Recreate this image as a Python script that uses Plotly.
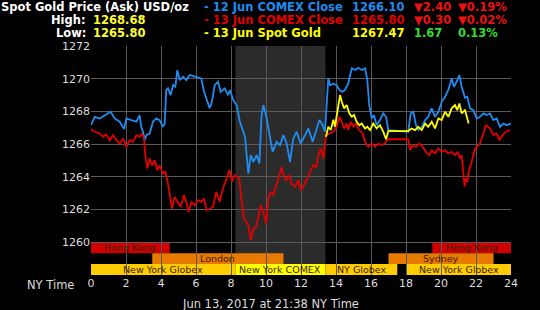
import plotly.graph_objects as go

# ---------------- data ----------------
blue_x = [0.0,0.21,0.5,0.78,1.12,1.35,1.64,1.89,2.02,2.3,2.59,2.78,2.87,2.97,3.07,3.16,3.35,3.54,3.73,3.92,
          4.11,4.21,4.3,4.4,4.55,4.69,4.82,4.93,5.07,5.26,5.45,5.64,5.92,6.3,6.46,6.59,6.78,6.91,7.07,7.26,
          7.41,7.64,7.83,7.94,8.13,8.32,8.51,8.8,8.99,9.13,9.28,9.47,9.62,9.75,9.85,10.0,10.19,10.38,10.61,10.8,
          10.99,11.18,11.37,11.56,11.75,11.98,12.23,12.42,12.67,12.86,13.05,13.24,13.37,13.56,13.66,13.85,14.04,14.13,14.33,14.51,
          14.7,14.9,15.09,15.27,15.47,15.66,15.79,15.9,16.04,16.17,16.32,16.51,16.7,16.86,16.99,18.13,18.27,18.42,18.57,18.7,
          18.9,19.09,19.27,19.47,19.66,19.85,20.04,20.23,20.42,20.61,20.74,20.89,21.05,21.18,21.37,21.5,21.66,21.85,22.04,22.23,
          22.42,22.61,22.8,22.99,23.18,23.37,23.56,23.75,24.0]
blue_y = [1267.16,1267.67,1267.57,1267.77,1267.98,1267.57,1267.37,1266.92,1267.57,1267.47,1267.37,1267.78,1267.06,1266.76,1266.24,1266.55,1266.65,1267.37,1267.57,1267.47,
          1267.06,1267.26,1269.31,1269.41,1269.0,1269.61,1269.51,1270.53,1269.92,1270.12,1269.92,1270.22,1270.12,1270.02,1269.2,1268.8,1268.19,1268.59,1269.61,1269.81,
          1269.2,1269.41,1269.0,1269.31,1268.69,1268.39,1267.37,1266.45,1264.2,1265.33,1264.92,1265.33,1264.82,1267.78,1268.39,1267.78,1266.76,1265.53,1266.14,1265.94,
          1266.55,1266.04,1264.92,1266.35,1266.76,1266.04,1266.55,1266.96,1266.14,1266.86,1267.47,1267.16,1266.76,1270.02,1269.6,1269.7,1269.61,1269.41,1269.2,1269.31,
          1269.71,1270.63,1270.53,1270.67,1270.53,1270.63,1269.92,1268.39,1267.57,1267.78,1267.16,1267.47,1267.88,1267.67,1266.86,1266.76,1267.88,1267.98,1267.16,1266.86,
          1267.06,1267.47,1267.67,1268.19,1267.67,1267.98,1268.59,1268.9,1269.31,1270.02,1269.51,1269.81,1270.22,1269.51,1268.84,1268.9,1268.19,1268.08,1267.57,1267.67,
          1267.88,1267.78,1267.88,1267.47,1267.57,1267.06,1267.26,1267.16,1267.26]

red_x = [0.0,0.21,0.5,0.69,0.87,1.07,1.26,1.45,1.64,1.83,2.02,2.21,2.4,2.59,2.78,2.91,3.03,3.1,3.22,3.35,
         3.49,3.64,3.79,3.92,4.11,4.25,4.4,4.55,4.63,4.78,4.93,5.13,5.31,5.45,5.58,5.73,5.92,6.11,6.3,6.46,
         6.61,6.78,6.97,7.16,7.35,7.54,7.73,7.92,8.06,8.21,8.32,8.47,8.61,8.74,8.9,8.99,9.13,9.28,9.43,9.56,
         9.7,9.85,10.0,10.13,10.27,10.42,10.61,10.76,10.89,11.03,11.14,11.33,11.46,11.66,11.85,11.98,12.17,12.36,12.55,12.7,
         12.86,12.99,13.13,13.28,13.43,13.66,13.85,14.04,14.19,14.33,14.46,14.61,14.7,14.84,14.99,15.14,15.33,15.52,15.66,15.85,
         16.04,16.23,16.42,16.61,16.8,16.9,16.99,18.13,18.23,18.38,18.57,18.76,18.95,19.14,19.33,19.47,19.66,19.85,20.04,20.23,
         20.42,20.61,20.8,20.95,21.09,21.18,21.28,21.35,21.42,21.5,21.6,21.75,21.9,22.04,22.23,22.42,22.57,22.8,22.99,23.18,
         23.33,23.52,23.71,23.94]
red_y = [1266.92,1266.76,1266.65,1266.45,1266.59,1266.24,1266.55,1266.24,1266.04,1266.35,1265.83,1266.24,1266.14,1266.55,1266.45,1266.65,1266.35,1265.33,1264.51,1265.12,
         1264.71,1265.02,1264.41,1264.71,1264.2,1264.31,1263.59,1262.67,1262.06,1262.77,1262.47,1262.16,1262.88,1262.47,1261.85,1262.47,1262.26,1262.57,1262.47,1262.67,
         1261.96,1262.06,1262.16,1263.08,1262.47,1263.29,1263.8,1264.41,1263.69,1264.1,1264.0,1263.9,1262.47,1261.45,1261.24,1261.04,1260.12,1260.84,1260.94,1261.65,
         1262.26,1261.85,1261.14,1262.67,1263.08,1262.88,1263.49,1264.1,1264.61,1264.0,1263.8,1264.1,1263.59,1263.39,1263.8,1263.18,1263.49,1263.9,1264.41,1264.71,
         1264.61,1265.33,1265.74,1265.12,1266.55,1266.65,1266.76,1267.06,1267.67,1267.37,1266.96,1267.26,1266.86,1267.37,1267.06,1267.26,1266.86,1266.65,1266.14,1265.83,
         1266.04,1265.83,1266.04,1265.94,1266.04,1266.24,1266.3,1266.3,1265.63,1265.94,1265.83,1266.04,1265.83,1265.53,1265.33,1265.63,1265.43,1265.74,1265.53,1265.63,
         1265.43,1265.53,1265.33,1265.53,1265.12,1265.33,1264.0,1263.4,1263.9,1263.7,1264.4,1264.9,1265.6,1265.83,1266.04,1266.65,1267.16,1266.96,1266.55,1266.65,
         1266.24,1266.55,1266.76,1266.86]

yel_x = [13.43,13.56,13.7,13.85,13.94,14.04,14.13,14.23,14.33,14.46,14.61,14.76,14.9,15.03,15.18,15.33,15.47,15.66,15.79,15.94,
         16.13,16.32,16.51,16.7,16.86,16.99,18.13,18.32,18.51,18.7,18.9,19.09,19.27,19.47,19.66,19.85,20.04,20.23,20.42,20.61,
         20.8,20.93,21.05,21.18,21.37,21.5,21.58]
yel_y = [1266.45,1267.06,1266.86,1267.5,1267.06,1267.78,1268.59,1269.0,1268.59,1268.19,1268.39,1267.88,1267.67,1267.78,1267.37,1267.16,1267.26,1266.96,1267.06,1266.86,
         1267.26,1266.96,1267.16,1266.76,1266.3,1266.8,1266.8,1266.96,1266.86,1267.06,1266.86,1267.26,1267.06,1267.37,1266.96,1267.57,1267.47,1267.98,1267.67,1268.19,
         1268.39,1268.08,1268.49,1267.88,1268.08,1267.57,1267.26]

x_ticks = [0, 2, 4, 6, 8, 10, 12, 14, 16, 18, 20, 22, 24]
y_ticks = [1260, 1262, 1264, 1266, 1268, 1270, 1272]

comex_shade = [8.25, 13.4]

sess_names = ["Hong Kong", "Hong Kong", "London", "Sydney", "New York Globex", "New York COMEX", "NY Globex", "New York Globex"]
sess_start = [0, 19.5, 3.5, 17, 0, 8.25, 13.4, 18]
sess_end = [4.5, 24, 11, 23, 8.25, 13.4, 17.5, 24]
sess_row = [0, 0, 1, 1, 2, 2, 2, 2]
sess_color = ["#d00000", "#d00000", "#e87a00", "#e87a00", "#ffcc00", "#ffff00", "#ffcc00", "#ffcc00"]

series_names = ["12 Jun COMEX Close", "13 Jun COMEX Close", "13 Jun Spot Gold"]
series_last = ["1266.10", "1265.80", "1267.47"]
series_chg = ["\u25bc2.40", "\u25bc0.30", "1.67"]
series_pct = ["\u25bc0.19%", "\u25bc0.02%", "0.13%"]
series_color = ["#1e8cf0", "#e00000", "#ffff00"]
chg_color = ["#ee1111", "#ee1111", "#33dd33"]
high_val = "1268.68"
low_val = "1265.80"

# ---------------- layout helpers ----------------
W, H = 540, 310
ML, MR, MT, MB = 91, 29, 46, 35
PW, PH = W - ML - MR, H - MT - MB
FONT = "DejaVu Sans"


def px(x):
    return (x - ML) / PW


def py(y):
    return (H - MB - y) / PH


fig = go.Figure()
for xs, ys, c in [(blue_x, blue_y, series_color[0]), (red_x, red_y, series_color[1]), (yel_x, yel_y, series_color[2])]:
    fig.add_trace(go.Scatter(x=xs, y=ys, mode="lines", line=dict(color=c, width=1.8), hoverinfo="skip"))

ymin, ymax = 1258, 1272
shapes = [dict(type="rect", xref="x", yref="y", x0=comex_shade[0], x1=comex_shade[1], y0=ymin, y1=ymax,
               fillcolor="#2b2b2b", line=dict(width=0), layer="below")]
annotations = []
row_h = (y_ticks[0] - ymin) / 3
for name, s, e, r, c in zip(sess_names, sess_start, sess_end, sess_row, sess_color):
    top = y_ticks[0] - r * row_h
    shapes.append(dict(type="rect", xref="x", yref="y", x0=s, x1=e, y0=top - row_h, y1=top,
                       fillcolor=c, line=dict(width=0), layer="below"))
    annotations.append(dict(x=(s + e) / 2, y=top - row_h / 2, xref="x", yref="y", text=name, showarrow=False,
                            font=dict(family=FONT, size=9.5, color="#3a2000"), xanchor="center", yanchor="middle"))


def txt(x, y, t, color, anchor="left", size=11.5, bold=True):
    annotations.append(dict(x=px(x), y=py(y), xref="paper", yref="paper", text=(f"<b>{t}</b>" if bold else t),
                            showarrow=False, xanchor=anchor, yanchor="middle",
                            font=dict(family=FONT, size=size, color=color)))


txt(-1, 7, "Spot Gold Price (Ask) USD/oz", "#ffffff")
txt(88, 20, "High:", "#ffffff", anchor="right")
txt(91, 20, high_val, "#ffff33")
txt(88, 33, "Low:", "#ffffff", anchor="right")
txt(91, 33, low_val, "#ffff33")
for i in range(3):
    yy = 7 + 13 * i
    txt(202, yy, "- " + series_names[i], series_color[i])
    txt(406, yy, series_last[i], series_color[i], anchor="right")
    txt(412, yy, series_chg[i], chg_color[i])
    txt(456, yy, series_pct[i], chg_color[i])
txt(76, 285, "NY Time", "#dddddd", anchor="right", bold=False)
txt(270, 304, "Jun 13, 2017 at 21:38 NY Time", "#dddddd", anchor="center", size=11.5, bold=False)

fig.update_layout(
    width=W, height=H, margin=dict(l=ML, r=MR, t=MT, b=MB),
    paper_bgcolor="#000000", plot_bgcolor="#000000", showlegend=False,
    shapes=shapes, annotations=annotations,
    xaxis=dict(range=[0, 24], tickvals=x_ticks, showgrid=True, gridcolor="#5a5a5a", gridwidth=1,
               zeroline=False, showline=False, tickfont=dict(family=FONT, size=11, color="#dddddd")),
    yaxis=dict(range=[ymin, ymax], tickvals=y_ticks, showgrid=True, gridcolor="#5a5a5a", gridwidth=1,
               zeroline=False, showline=False, tickfont=dict(family=FONT, size=11, color="#dddddd")),
)
fig.write_html("out.html")
